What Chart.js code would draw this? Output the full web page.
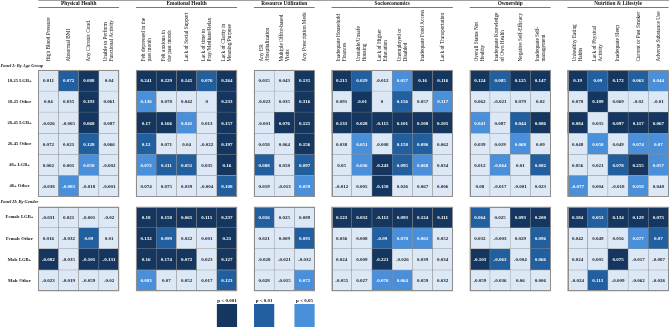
<!DOCTYPE html>
<html>
<head>
  <title>Heatmap</title>
  <script src="https://cdn.jsdelivr.net/npm/chart.js"></script>
  <style>
    body { margin: 0; background: #fff; }
    #wrap { width: 669px; height: 327px; position: relative; }
  </style>
</head>
<body>
  <div id="wrap"><canvas id="grid"></canvas></div>

  <script>
    // column groups and their headers (each header split in lines)
    var groups = ['Physical Health', 'Emotional Health', 'Resource Utilization', 'Socioeconomics', 'Ownership', 'Nutrition & Lifestyle'];
    var physicalCols = [['High Blood Pressure'], ['Abnormal BMI'], ['Any Chronic Cond.'], ['Unable to Perform', 'Functional Activity']];
    var emotionalCols = [['Felt depressed in the', 'past month'], ['Felt anxious in', 'the past month'], ['Lack of Social Support'], ['Lack of time to', 'Pray/Meditate/Relax'], ['Lack of Clarity in', 'Meaning/Purpose']];
    var resourceCols = [['Any ER', '/Hospitalization'], ['Multiple Office-based', 'Visits'], ['Any Prescription Meds']];
    var socioCols = [['Inadequate Household', 'Finances'], ['Unstable/Unsafe', 'Housing'], ['Lack of Higher', 'Education'], ['Unemployed or', 'Disabled'], ['Inadequate Food Access'], ['Lack of Transportation']];
    var ownershipCols = [['Overall Status Not', 'Healthy'], ['Inadequate Knowledge', 'of Own Health'], ['Negative Self-Efficacy'], ['Inadequate Self-', 'management']];
    var nutritionCols = [['Unhealthy Eating', 'Habits'], ['Lack of Physical', 'Activity'], ['Inadequate Sleep'], ['Current or Past Smoker'], ['Adverse Substance Use']];
    var groupCols = [physicalCols, emotionalCols, resourceCols, socioCols, ownershipCols, nutritionCols];

    // row panels
    var panels = ['Panel I: By Age Group', 'Panel II: By Gender'];
    var ageRows = ['18-25 LGB+', '18-25 Other', '26-45 LGB+', '26-45 Other', '46+ LGB+', '46+ Other'];
    var genderRows = ['Female LGB+', 'Female Other', 'Male LGB+', 'Male Other'];

    // values per row, 27 columns in group order
    var age1825Lgb   = [0.011, 0.072, 0.088, 0.04, 0.241, 0.229, 0.145, 0.076, 0.264, 0.015, 0.043, 0.135, 0.215, 0.029, -0.012, 0.057, 0.16, 0.116, 0.124, 0.085, 0.125, 0.147, 0.19, 0.09, 0.172, 0.063, 0.044];
    var age1825Other = [0.04, 0.035, 0.193, 0.061, 0.136, 0.078, 0.042, 0, 0.233, -0.023, 0.035, 0.316, 0.091, -0.01, 0, 0.156, 0.057, 0.117, 0.062, -0.021, 0.079, 0.02, 0.078, 0.189, 0.069, -0.02, -0.01];
    var age2645Lgb   = [-0.026, -0.005, 0.068, 0.087, 0.17, 0.166, 0.041, 0.013, 0.157, -0.001, 0.076, 0.125, 0.133, 0.028, -0.115, 0.101, 0.108, 0.105, 0.041, 0.087, 0.044, 0.086, 0.084, 0.035, 0.097, 0.117, 0.067];
    var age2645Other = [0.072, 0.021, 0.128, 0.066, 0.12, 0.071, 0.04, -0.022, 0.197, 0.058, 0.064, 0.156, 0.038, 0.051, -0.008, 0.158, 0.096, 0.062, 0.039, 0.019, 0.068, 0.09, 0.048, 0.058, 0.049, 0.074, 0.07];
    var age46Lgb     = [0.002, 0.001, 0.058, -0.002, 0.072, 0.111, 0.051, 0.035, 0.16, 0.088, 0.058, 0.097, 0.05, 0.036, -0.243, 0.095, 0.068, 0.034, 0.012, -0.064, 0.01, 0.082, 0.056, 0.021, 0.078, 0.255, 0.057];
    var age46Other   = [-0.038, -0.083, -0.018, -0.001, 0.074, 0.075, 0.039, -0.004, 0.108, 0.019, -0.013, 0.059, -0.012, 0.005, -0.158, 0.026, 0.067, 0.006, 0.08, -0.017, -0.001, 0.023, -0.077, 0.004, -0.018, 0.058, 0.048];
    var femaleLgb    = [-0.031, 0.021, -0.001, -0.02, 0.18, 0.158, 0.065, 0.115, 0.237, 0.056, 0.025, 0.089, 0.123, 0.032, -0.112, 0.093, 0.124, 0.111, 0.064, 0.025, 0.093, 0.208, 0.184, 0.053, 0.134, 0.129, 0.075];
    var femaleOther  = [0.016, -0.032, 0.09, 0.01, 0.132, 0.099, 0.022, 0.001, 0.21, 0.021, 0.009, 0.095, 0.036, 0.008, -0.09, 0.078, 0.063, 0.052, 0.032, -0.003, 0.029, 0.096, 0.042, 0.049, 0.056, 0.077, 0.07];
    var maleLgb      = [-0.082, -0.035, -0.101, -0.131, 0.16, 0.174, 0.072, 0.023, 0.127, -0.028, -0.021, -0.032, 0.024, 0.009, -0.221, -0.026, 0.039, 0.034, -0.103, -0.063, -0.004, 0.066, 0.024, 0.005, 0.075, -0.017, -0.087];
    var maleOther    = [-0.023, -0.019, -0.059, -0.02, 0.083, 0.07, 0.052, 0.017, 0.123, 0.028, -0.015, 0.072, -0.055, 0.027, -0.076, 0.064, 0.059, 0.032, -0.059, -0.036, 0.06, 0.006, -0.024, 0.113, -0.009, -0.062, -0.026];

    // significance: 0 none, 1 p<0.05, 2 p<0.01, 3 p<0.001
    var age1825LgbSig   = [0,2,3,0, 3,3,3,2,3, 0,0,3, 3,2,0,1,3,3, 3,2,3,3, 3,2,3,2,1];
    var age1825OtherSig = [0,0,3,0, 1,0,0,0,3, 0,0,3, 0,3,0,2,0,1, 0,0,0,0, 0,3,0,0,0];
    var age2645LgbSig   = [0,0,3,0, 3,3,1,0,3, 0,3,3, 3,3,3,3,3,3, 1,0,2,3, 3,0,3,3,3];
    var age2645OtherSig = [0,0,2,0, 2,0,0,0,3, 0,0,3, 0,1,0,2,2,0, 0,0,1,0, 0,1,0,1,1];
    var age46LgbSig     = [0,0,1,0, 1,2,2,0,3, 2,0,2, 0,1,3,2,1,0, 0,1,0,2, 0,0,2,3,1];
    var age46OtherSig   = [0,1,0,0, 0,0,0,0,2, 0,0,1, 0,0,3,0,0,0, 0,0,0,0, 1,0,0,1,0];
    var femaleLgbSig    = [0,0,0,0, 3,3,3,3,3, 2,0,0, 3,3,3,3,3,3, 2,0,3,3, 3,2,3,3,3];
    var femaleOtherSig  = [0,0,2,0, 3,2,0,0,3, 0,0,2, 0,0,2,1,1,0, 0,0,0,2, 0,0,0,1,2];
    var maleLgbSig      = [3,0,3,3, 3,3,3,0,3, 0,0,0, 0,0,3,0,0,0, 3,2,0,2, 0,0,3,0,0];
    var maleOtherSig    = [0,0,0,0, 1,0,0,0,2, 0,0,1, 0,0,1,1,0,0, 0,0,0,0, 0,2,0,0,0];

    var legendLabels = ['p < 0.001', 'p < 0.01', 'p < 0.05'];

    var panelValues = [
      [age1825Lgb, age1825Other, age2645Lgb, age2645Other, age46Lgb, age46Other],
      [femaleLgb, femaleOther, maleLgb, maleOther]
    ];
    var panelSig = [
      [age1825LgbSig, age1825OtherSig, age2645LgbSig, age2645OtherSig, age46LgbSig, age46OtherSig],
      [femaleLgbSig, femaleOtherSig, maleLgbSig, maleOtherSig]
    ];
    var panelRows = [ageRows, genderRows];

    var levelColors = ['#dce8f6', '#4a8fd9', '#215f9f', '#15375f'];
    var font = '"Liberation Serif", "DejaVu Serif", serif';

    // column positions (unit = one cell, groups separated by a gap)
    var groupGap = 0.84;
    var colPos = [], colHead = [], groupSpan = [];
    var n = 0;
    groupCols.forEach(function(cols, g) {
      var first = n + g * groupGap;
      cols.forEach(function(h, k) {
        colPos.push(n + g * groupGap);
        colHead.push(h);
        n++;
      });
      groupSpan.push([first, n - 1 + g * groupGap]);
    });

    // row positions (unit = one row, panels separated by a gap)
    var panelGap = 0.48;
    var panelStart = [0, ageRows.length + panelGap];

    var cells = [];
    panelValues.forEach(function(rows, p) {
      rows.forEach(function(vals, r) {
        vals.forEach(function(v, c) {
          var y0 = panelStart[p] + r;
          cells.push({ x: colPos[c], y: [y0, y0 + 1], v: v, s: panelSig[p][r][c] });
        });
      });
    });

    var tablePlugin = {
      id: 'tableText',
      afterDatasetsDraw: function(chart) {
        var ctx = chart.ctx;
        var xs = chart.scales.x, ys = chart.scales.y;
        var meta = chart.getDatasetMeta(0);
        ctx.save();

        // block outlines
        ctx.strokeStyle = '#8e8e8e';
        ctx.lineWidth = 1;
        panelStart.forEach(function(ps, p) {
          var top = ys.getPixelForValue(ps), bot = ys.getPixelForValue(ps + panelRows[p].length);
          groupSpan.forEach(function(sp) {
            var l = xs.getPixelForValue(sp[0] - 0.5), r = xs.getPixelForValue(sp[1] + 0.5);
            ctx.strokeRect(Math.round(l) + 0.5, Math.round(top) + 0.5, Math.round(r - l) - 1, Math.round(bot - top) - 1);
          });
        });

        // cell values
        ctx.font = 'bold 5px ' + font;
        ctx.textAlign = 'center';
        ctx.textBaseline = 'middle';
        meta.data.forEach(function(bar, i) {
          var raw = cells[i];
          var c = bar.getCenterPoint();
          ctx.fillStyle = raw.s > 0 ? '#ffffff' : '#1b1b1b';
          ctx.fillText(String(raw.v), c.x, c.y + 0.5);
        });

        // top rule
        ctx.strokeStyle = '#a0a0a0';
        ctx.beginPath();
        ctx.moveTo(xs.getPixelForValue(groupSpan[0][0] - 0.5), 0.5);
        ctx.lineTo(chart.width, 0.5);
        ctx.stroke();

        // group titles and underline
        ctx.fillStyle = '#111';
        ctx.font = 'bold 5.3px ' + font;
        groups.forEach(function(g, i) {
          var l = xs.getPixelForValue(groupSpan[i][0] - 0.5);
          var r = xs.getPixelForValue(groupSpan[i][1] + 0.5);
          ctx.fillText(g, (l + r) / 2, 4);
          ctx.strokeStyle = '#777';
          ctx.beginPath();
          ctx.moveTo(l, 7.5);
          ctx.lineTo(r, 7.5);
          ctx.stroke();
        });

        // column headers, rotated
        ctx.font = '5.3px ' + font;
        ctx.textAlign = 'left';
        colHead.forEach(function(lines, c) {
          var x = xs.getPixelForValue(colPos[c]);
          ctx.save();
          ctx.translate(x, 61.5);
          ctx.rotate(-Math.PI / 2);
          lines.forEach(function(t, j) {
            ctx.fillText(t, 0, (j - (lines.length - 1) / 2) * 6);
          });
          ctx.restore();
        });

        // panel titles and row labels
        panels.forEach(function(t, p) {
          ctx.font = 'italic bold 4.5px ' + font;
          ctx.textAlign = 'left';
          ctx.fillText(t, 0.5, ys.getPixelForValue(panelStart[p]) - 4.5);
          ctx.font = 'bold 4.6px ' + font;
          ctx.textAlign = 'center';
          panelRows[p].forEach(function(lbl, r) {
            ctx.fillText(lbl, 19.5, ys.getPixelForValue(panelStart[p] + r + 0.5));
          });
        });

        // significance legend under emotional / resource columns
        var legendCols = [8, 9, 11];
        ctx.font = 'bold 5px ' + font;
        ctx.textAlign = 'center';
        legendCols.forEach(function(c, i) {
          var l = xs.getPixelForValue(colPos[c] - 0.5), r = xs.getPixelForValue(colPos[c] + 0.5);
          ctx.fillStyle = '#111';
          ctx.fillText(legendLabels[i], (l + r) / 2, 300.5);
          ctx.fillStyle = levelColors[3 - i];
          ctx.fillRect(l, 304, r - l, 24);
        });

        ctx.restore();
      }
    };

    var xMin = -0.5 - 38.3 / 20.2;
    var yMin = -70 / 21.1;

    var config = {
      type: 'bar',
      data: {
        datasets: [{
          data: cells,
          backgroundColor: function(c) { return c.raw ? levelColors[c.raw.s] : levelColors[0]; },
          borderColor: '#8e8e8e',
          borderWidth: 0.5,
          borderSkipped: false,
          categoryPercentage: 1,
          barPercentage: 1
        }]
      },
      options: {
        responsive: true,
        maintainAspectRatio: false,
        animation: false,
        events: [],
        layout: { padding: 0 },
        plugins: { legend: { display: false }, tooltip: { enabled: false } },
        scales: {
          x: {
            type: 'linear', display: false, offset: false,
            min: xMin, max: xMin + 669 / 20.2,
            afterBuildTicks: function(s) { s.ticks = colPos.map(function(v) { return { value: v }; }); }
          },
          y: {
            type: 'linear', display: false, reverse: true,
            min: yMin, max: yMin + 327 / 21.1
          }
        }
      },
      plugins: [tablePlugin]
    };

    var chart = new Chart(document.getElementById('grid').getContext('2d'), config);
  </script>
</body>
</html>
